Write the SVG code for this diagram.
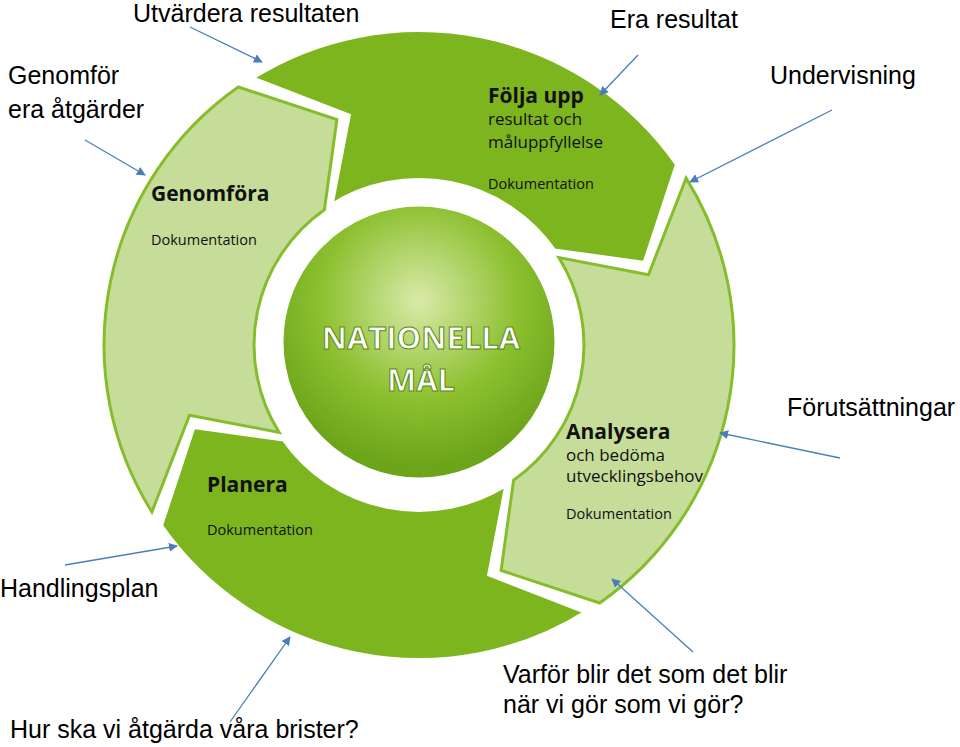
<svg xmlns="http://www.w3.org/2000/svg" width="960" height="747" viewBox="0 0 960 747">
<defs>
<style>
.dark{fill:#7db51e;stroke:#fff;stroke-width:4}
.light{fill:#c6dd9a;stroke:#86bd2c;stroke-width:3}
.lbl{font-family:"Liberation Sans",Arial,sans-serif;font-size:25px;fill:#000}
.h{font-family:"Open Sans","Noto Sans",sans-serif;font-weight:bold;font-size:21px;fill:#111}
.s{font-family:"Open Sans","Noto Sans",sans-serif;font-size:17px;fill:#111}
.d{font-family:"Open Sans","Noto Sans",sans-serif;font-size:14.5px;fill:#111}
.c{font-family:"Open Sans","Noto Sans",sans-serif;font-weight:bold;font-size:31px;fill:#fff;stroke:#5a8a10;stroke-width:1;text-anchor:middle}
.con{stroke:#4a7ebb;stroke-width:1.3;fill:none;marker-end:url(#ah)}
</style>
<marker id="ah" viewBox="0 0 10 10" refX="9" refY="5" markerWidth="9" markerHeight="9" orient="auto" markerUnits="userSpaceOnUse"><path d="M0,0 L10,5 L0,10 z" fill="#4a7ebb"/></marker>
<radialGradient id="g" cx="0.5" cy="0.35" r="0.6"><stop offset="0" stop-color="#d9eaa9"/><stop offset="0.6" stop-color="#8cc030"/><stop offset="1" stop-color="#6da51a"/></radialGradient>
</defs>
<rect width="960" height="747" fill="#fff"/>
<g id="analysera"><path class="light" d="M686.1,178.1 A315,315 0 0 1 599.7,603 L501.1,570.5 L513.6,480.2 A165,165 0 0 0 558.9,257.6 L648.5,274.8 Z"/>
<text class="h" x="566" y="439">Analysera</text><text class="s" x="566" y="461">och bedöma</text><text class="s" x="566" y="482">utvecklingsbehov</text><text class="d" x="566" y="519">Dokumentation</text></g>
<g id="planera"><path class="dark" d="M585.9,612.1 A315,315 0 0 1 161,525.7 L193.5,427.1 L283.8,439.6 A165,165 0 0 0 506.4,484.9 L489.2,574.5 Z"/>
<text class="h" x="207" y="492">Planera</text><text class="d" x="207" y="535">Dokumentation</text></g>
<g id="genomfora"><path class="light" d="M151.9,511.9 A315,315 0 0 1 238.3,87 L336.9,119.5 L324.4,209.8 A165,165 0 0 0 279.1,432.4 L189.5,415.2 Z"/>
<text class="h" x="151" y="201">Genomföra</text><text class="d" x="151" y="245">Dokumentation</text></g>
<g id="folja"><path class="dark" d="M252,78 A315,315 0 0 1 677,164.3 L644.5,262.9 L554.2,250.4 A165,165 0 0 0 331.5,205.1 L348.8,115.5 Z"/>
<text class="h" x="488" y="103">Följa upp</text><text class="s" x="488" y="125">resultat och</text><text class="s" x="488" y="148">måluppfyllelse</text><text class="d" x="488" y="189">Dokumentation</text></g>
<g id="center"><circle cx="419" cy="342" r="137" fill="url(#g)" stroke="#fff" stroke-width="3"/>
<text class="c" x="421" y="349">NATIONELLA</text><text class="c" x="421" y="391">MÅL</text></g>
<g id="connectors">
<path class="con" d="M190,27 L262,62"/>
<path class="con" d="M85,140 L145,175"/>
<path class="con" d="M638,55 L600,95"/>
<path class="con" d="M832,110 L690,182"/>
<path class="con" d="M840,458 L720,433"/>
<path class="con" d="M65,565 L177,546"/>
<path class="con" d="M230,722 L290,637"/>
<path class="con" d="M693,652 L612,579"/>
</g>
<g id="labels">
<text class="lbl" x="133" y="22">Utvärdera resultaten</text>
<text class="lbl" x="8" y="84">Genomför</text><text class="lbl" x="8" y="118">era åtgärder</text>
<text class="lbl" x="610" y="28">Era resultat</text>
<text class="lbl" x="770" y="84">Undervisning</text>
<text class="lbl" x="787" y="416">Förutsättningar</text>
<text class="lbl" x="0" y="597">Handlingsplan</text>
<text class="lbl" x="10" y="738">Hur ska vi åtgärda våra brister?</text>
<text class="lbl" x="503" y="683">Varför blir det som det blir</text>
<text class="lbl" x="503" y="713">när vi gör som vi gör?</text>
</g>
</svg>
